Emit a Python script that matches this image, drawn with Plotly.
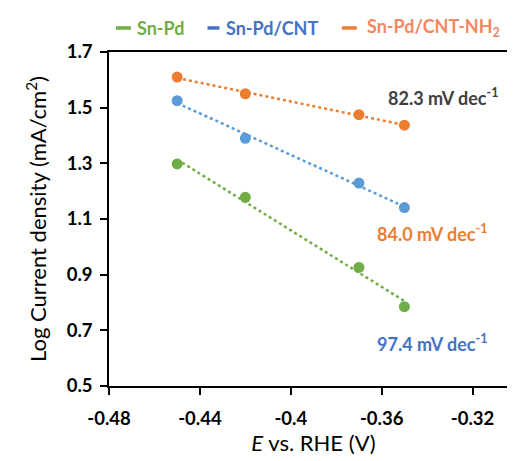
import numpy as np
import plotly.graph_objects as go

# ---- data ----
potential = [-0.45, -0.42, -0.37, -0.35]
sn_pd = [1.298, 1.178, 0.926, 0.785]
sn_pd_cnt = [1.525, 1.390, 1.229, 1.141]
sn_pd_cnt_nh2 = [1.610, 1.550, 1.475, 1.437]
x_ticks = [-0.48, -0.44, -0.40, -0.36, -0.32]
x_tick_labels = ["-0.48", "-0.44", "-0.4", "-0.36", "-0.32"]
y_ticks = [0.5, 0.7, 0.9, 1.1, 1.3, 1.5, 1.7]
y_tick_labels = ["0.5", "0.7", "0.9", "1.1", "1.3", "1.5", "1.7"]
series_names = ["Sn-Pd", "Sn-Pd/CNT", "Sn-Pd/CNT-NH<sub>2</sub>"]
tafel_labels = ["82.3 mV dec<sup>-1</sup>", "84.0 mV dec<sup>-1</sup>", "97.4 mV dec<sup>-1</sup>"]

GREEN = "#70AD47"
BLUE = "#5B9BD5"
ORANGE = "#ED7D31"
FONT = "Lato"

fig = go.Figure()

series = [(sn_pd, GREEN), (sn_pd_cnt, BLUE), (sn_pd_cnt_nh2, ORANGE)]
xs = np.array(potential)
for ys, col in series:
    k, b = np.polyfit(xs, np.array(ys), 1)
    xf = np.array([xs.min(), xs.max()])
    fig.add_trace(go.Scatter(x=xf, y=k * xf + b, mode="lines",
                             line=dict(color=col, width=2.5, dash="dot"),
                             showlegend=False, hoverinfo="skip"))
    fig.add_trace(go.Scatter(x=potential, y=ys, mode="markers",
                             marker=dict(color=col, size=11),
                             showlegend=False))

# Tafel slope labels
label_specs = [
    (tafel_labels[0], -0.358, 1.538, "#404040"),
    (tafel_labels[1], -0.363, 1.050, ORANGE),
    (tafel_labels[2], -0.363, 0.654, "#4472C4"),
]
for txt, x, y, col in label_specs:
    fig.add_annotation(x=x, y=y, xref="x", yref="y", text="<b>" + txt + "</b>",
                       showarrow=False, xanchor="left", yanchor="middle",
                       font=dict(family=FONT, size=18, color=col))

# Legend (manual, top)
legend_specs = [
    (series_names[0], 108, 123, 127, GREEN, GREEN),
    (series_names[1], 200, 212, 217, "#4472C4", "#4472C4"),
    (series_names[2], 335, 350, 358, ORANGE, "#F4875F"),
]
W = 411.0
for name, d0, d1, t0, dcol, tcol in legend_specs:
    fig.add_shape(type="line", xref="paper", yref="paper",
                  x0=(d0 - 101) / W, x1=(d1 - 101) / W, y0=1.072, y1=1.072,
                  line=dict(color=dcol, width=3.5))
    fig.add_annotation(x=(t0 - 101) / W, y=1.072, xref="paper", yref="paper",
                       text="<b>" + name + "</b>", showarrow=False,
                       xanchor="left", yanchor="middle",
                       font=dict(family=FONT, size=18, color=tcol))

fig.update_layout(
    width=515, height=461,
    margin=dict(l=101, r=3, t=44, b=83),
    plot_bgcolor="white", paper_bgcolor="white",
    showlegend=False,
    xaxis=dict(range=[-0.48, -0.30], tickvals=x_ticks, ticktext=x_tick_labels,
               showgrid=False, zeroline=False, showline=True, linecolor="black",
               linewidth=1.5, mirror=True, ticks="outside", ticklen=7,
               tickcolor="black", tickwidth=1.5, ticklabelstandoff=8,
               tickfont=dict(family=FONT, size=18.5, color="black", weight="bold"),
               title=dict(text="<i>E</i> vs. RHE (V)", standoff=8,
                          font=dict(family=FONT, size=22, color="black"))),
    yaxis=dict(range=[0.5, 1.7], tickvals=y_ticks, ticktext=y_tick_labels,
               showgrid=False, zeroline=False, showline=True, linecolor="black",
               linewidth=1.5, mirror=True, ticks="outside", ticklen=7,
               tickcolor="black", tickwidth=1.5, ticklabelstandoff=4,
               tickfont=dict(family=FONT, size=18.5, color="black", weight="bold"),
               title=dict(text="Log Current density (mA/cm<sup>2</sup>)", standoff=14,
                          font=dict(family=FONT, size=22, color="black"))),
)

fig.write_html("out.html")
